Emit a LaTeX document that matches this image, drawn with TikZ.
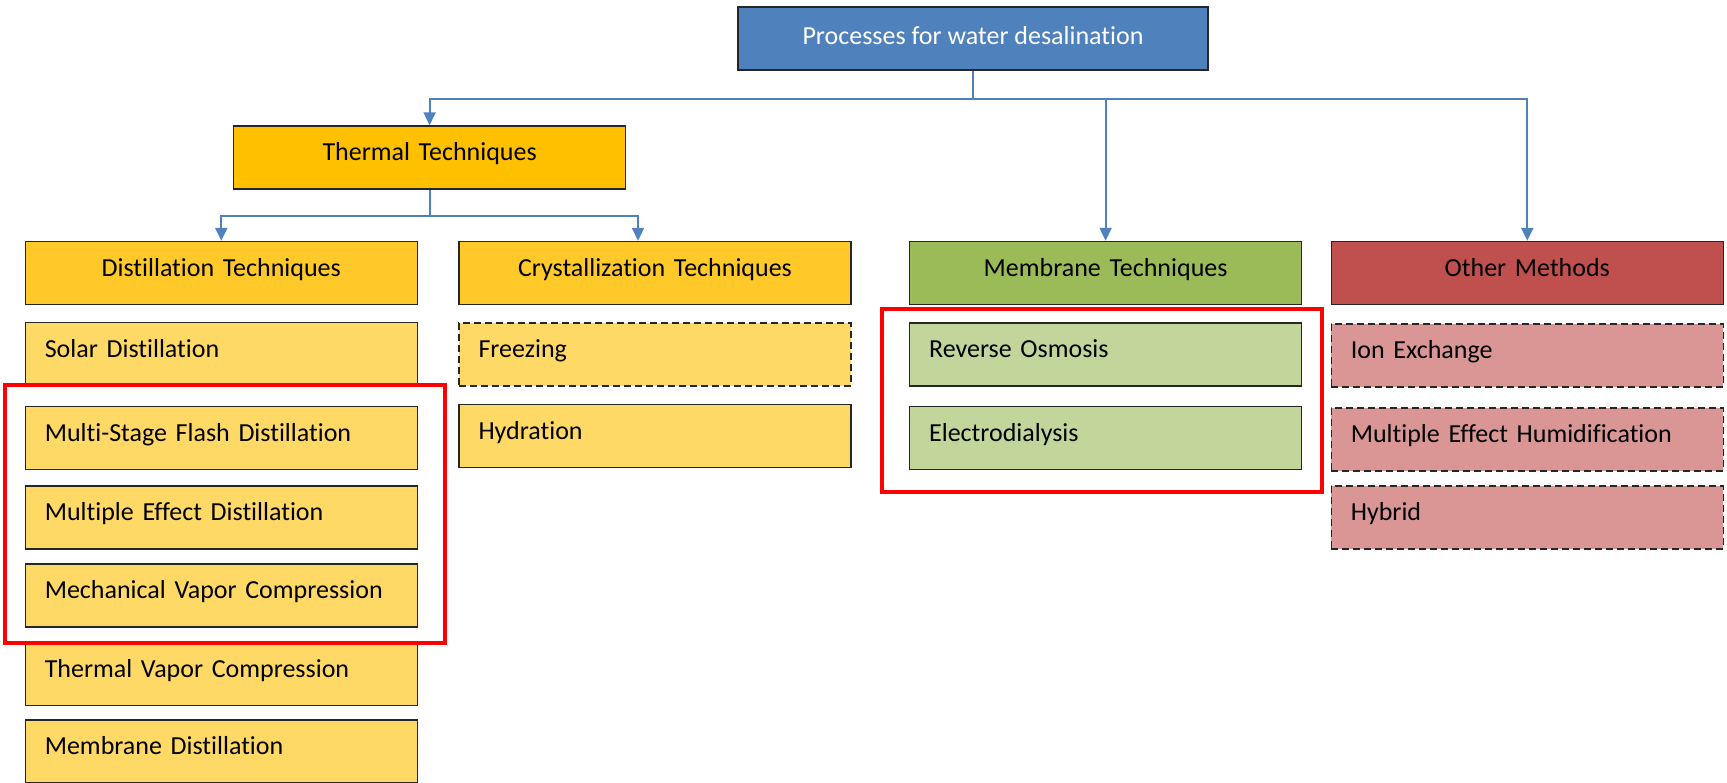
\documentclass[tikz,border=0pt]{standalone}
\usepackage{fontspec}
\setmainfont{Carlito}[Ligatures=NoCommon]
\usetikzlibrary{arrows.meta,calc}
\definecolor{topblue}{HTML}{4F81BD}
\definecolor{thermal}{HTML}{FFC000}
\definecolor{goldhead}{HTML}{FFC929}
\definecolor{goldit}{HTML}{FFD966}
\definecolor{greenhead}{HTML}{9BBB59}
\definecolor{greenit}{HTML}{C2D69B}
\definecolor{redhead}{HTML}{C0504D}
\definecolor{redit}{HTML}{D99694}
\definecolor{boxline}{HTML}{262626}
\newcommand\fsz{\fontsize{26}{31}\selectfont}
\tikzset{
  box/.style={draw=boxline, line width=1.5pt, rectangle, minimum width=392pt, minimum height=63pt,
    inner sep=0pt, text height=20pt, text depth=14pt, font=\fsz},
  headbox/.style={box, align=center, text width=380pt},
  itembox/.style={box, align=left, text width=353pt},
  dashbox/.style={dash pattern=on 7pt off 4pt},
  conn/.style={draw=topblue, line width=2.2pt},
  arr/.style={conn, -{Triangle[length=13pt,width=12pt]}},
  hl/.style={draw=red, line width=4pt}
}
\begin{document}
\begin{tikzpicture}[x=1pt,y=-1pt]
\useasboundingbox[fill=white] (0,0) rectangle (1727,782);
% top
\node[box, fill=topblue, text=white, minimum width=470pt, minimum height=63pt, text height=20pt, text depth=9pt] (top) at (973,38.7) {Processes for water desalination};
\node[headbox, fill=thermal] (thermal) at (429.6,157.5) {Thermal Techniques};
% headers
\node[headbox, fill=goldhead] (dist) at (221.3,273) {Distillation Techniques};
\node[headbox, fill=goldhead] (cryst) at (655,273) {Crystallization Techniques};
\node[headbox, fill=greenhead] (memb) at (1105.6,273) {Membrane Techniques};
\node[headbox, fill=redhead] (other) at (1527.3,273) {Other Methods};
% column 1
\node[itembox, fill=goldit] (solar) at (221.3,354) {Solar Distillation};
\node[itembox, fill=goldit] (msf) at (221.3,438) {Multi-Stage Flash Distillation};
\node[itembox, fill=goldit] (med) at (221.3,517.6) {Multiple Effect Distillation};
\node[itembox, fill=goldit] (mvc) at (221.3,595.3) {Mechanical Vapor Compression};
\node[itembox, fill=goldit] (tvc) at (221.3,674) {Thermal Vapor Compression};
\node[itembox, fill=goldit] (md) at (221.3,751.5) {Membrane Distillation};
% column 2
\node[itembox, fill=goldit, dashbox] (freez) at (655,354.3) {Freezing};
\node[itembox, fill=goldit] (hydr) at (655,436) {Hydration};
% column 3
\node[itembox, fill=greenit] (ro) at (1105.6,354.5) {Reverse Osmosis};
\node[itembox, fill=greenit] (ed) at (1105.6,438) {Electrodialysis};
% column 4
\node[itembox, fill=redit, dashbox] (ion) at (1527.3,355.3) {Ion Exchange};
\node[itembox, fill=redit, dashbox] (meh) at (1527.3,439.7) {Multiple Effect Humidification};
\node[itembox, fill=redit, dashbox] (hyb) at (1527.3,517.5) {Hybrid};
% connectors
\coordinate (j1) at ($(top.south)+(0,28)$);
\draw[arr] (top.south) -- (j1) -| (thermal.north);
\draw[arr] (j1) -| (memb.north);
\draw[arr] (j1) -| (other.north);
\coordinate (j2) at ($(thermal.south)+(0,26)$);
\coordinate (crin) at ($(cryst.north)+(-17,0)$);
\draw[arr] (thermal.south) -- (j2) -| (dist.north);
\draw[arr] (j2) -| (crin);
% highlight frames
\draw[hl] (4.6,385) rectangle (445,643);
\draw[hl] (882,308.5) rectangle (1321.5,491.7);
\end{tikzpicture}
\end{document}
